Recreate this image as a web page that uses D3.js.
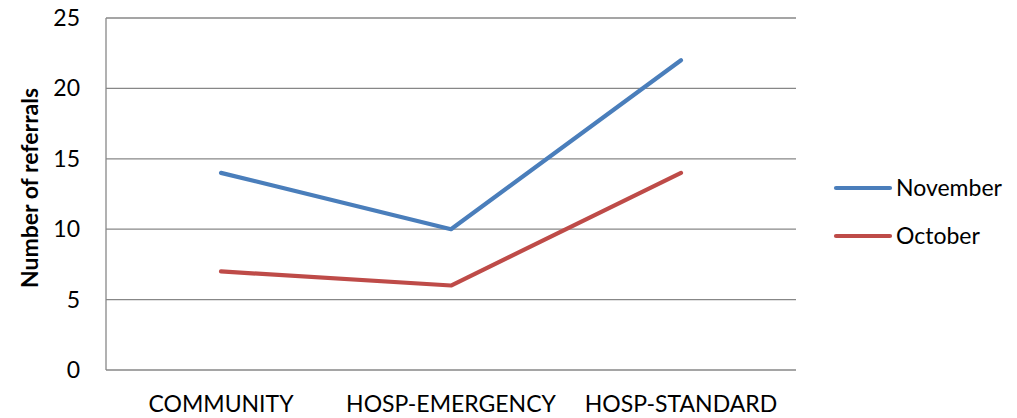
<!DOCTYPE html>
<html>
<head>
<meta charset="utf-8">
<script src="https://cdn.jsdelivr.net/npm/d3@7"></script>
<style>
  body { margin: 0; background: #fff; }
  text { font-family: Lato, "Open Sans", sans-serif; fill: #000; }
</style>
</head>
<body>
<script>
// data
var categories = ["COMMUNITY", "HOSP-EMERGENCY", "HOSP-STANDARD"];
var november = [14, 10, 22];
var october = [7, 6, 14];
var yTicks = [0, 5, 10, 15, 20, 25];

var series = [
  {name: "November", values: november, color: "#4a7ebb"},
  {name: "October", values: october, color: "#be4b48"}
];

var W = 1017, H = 418;
var plot = {left: 106, right: 796, top: 18, bottom: 370};

var svg = d3.select("body").append("svg")
    .attr("width", W)
    .attr("height", H);

var x = d3.scaleBand()
    .domain(categories)
    .range([plot.left, plot.right]);

var y = d3.scaleLinear()
    .domain([0, 25])
    .range([plot.bottom, plot.top]);

// gridlines
svg.append("g")
  .selectAll("line")
  .data(yTicks)
  .enter().append("line")
    .attr("x1", plot.left)
    .attr("x2", plot.right)
    .attr("y1", d => y(d))
    .attr("y2", d => y(d))
    .attr("stroke", "#878787")
    .attr("stroke-width", 1.3);

// y axis line
svg.append("line")
    .attr("x1", plot.left).attr("x2", plot.left)
    .attr("y1", plot.top).attr("y2", plot.bottom)
    .attr("stroke", "#878787")
    .attr("stroke-width", 1.3);

// y tick labels
svg.append("g")
  .selectAll("text")
  .data(yTicks)
  .enter().append("text")
    .attr("x", 80)
    .attr("y", d => y(d))
    .attr("dy", "0.35em")
    .attr("text-anchor", "end")
    .attr("font-size", "23px")
    .text(d => d);

// x labels
svg.append("g")
  .selectAll("text")
  .data(categories)
  .enter().append("text")
    .attr("x", d => x(d) + x.bandwidth() / 2)
    .attr("y", 412)
    .attr("text-anchor", "middle")
    .attr("font-size", "23px")
    .text(d => d);

// y title
svg.append("text")
    .attr("transform", "translate(38,188) rotate(-90)")
    .attr("text-anchor", "middle")
    .attr("font-size", "23px")
    .attr("font-weight", "bold")
    .text("Number of referrals");

// lines
var line = d3.line()
    .x((d, i) => x(categories[i]) + x.bandwidth() / 2)
    .y(d => y(d));

svg.append("g")
  .selectAll("path")
  .data(series)
  .enter().append("path")
    .attr("d", d => line(d.values))
    .attr("fill", "none")
    .attr("stroke", d => d.color)
    .attr("stroke-width", 4.2)
    .attr("stroke-linejoin", "round")
    .attr("stroke-linecap", "round");

// legend
var legend = svg.append("g")
  .selectAll("g")
  .data(series)
  .enter().append("g")
    .attr("transform", (d, i) => "translate(836," + (188 + i * 48) + ")");

legend.append("line")
    .attr("x1", 0).attr("x2", 54)
    .attr("stroke", d => d.color)
    .attr("stroke-width", 4.2)
    .attr("stroke-linecap", "round");

legend.append("text")
    .attr("x", 60)
    .attr("dy", "0.35em")
    .attr("font-size", "23px")
    .text(d => d.name);
</script>
</body>
</html>
